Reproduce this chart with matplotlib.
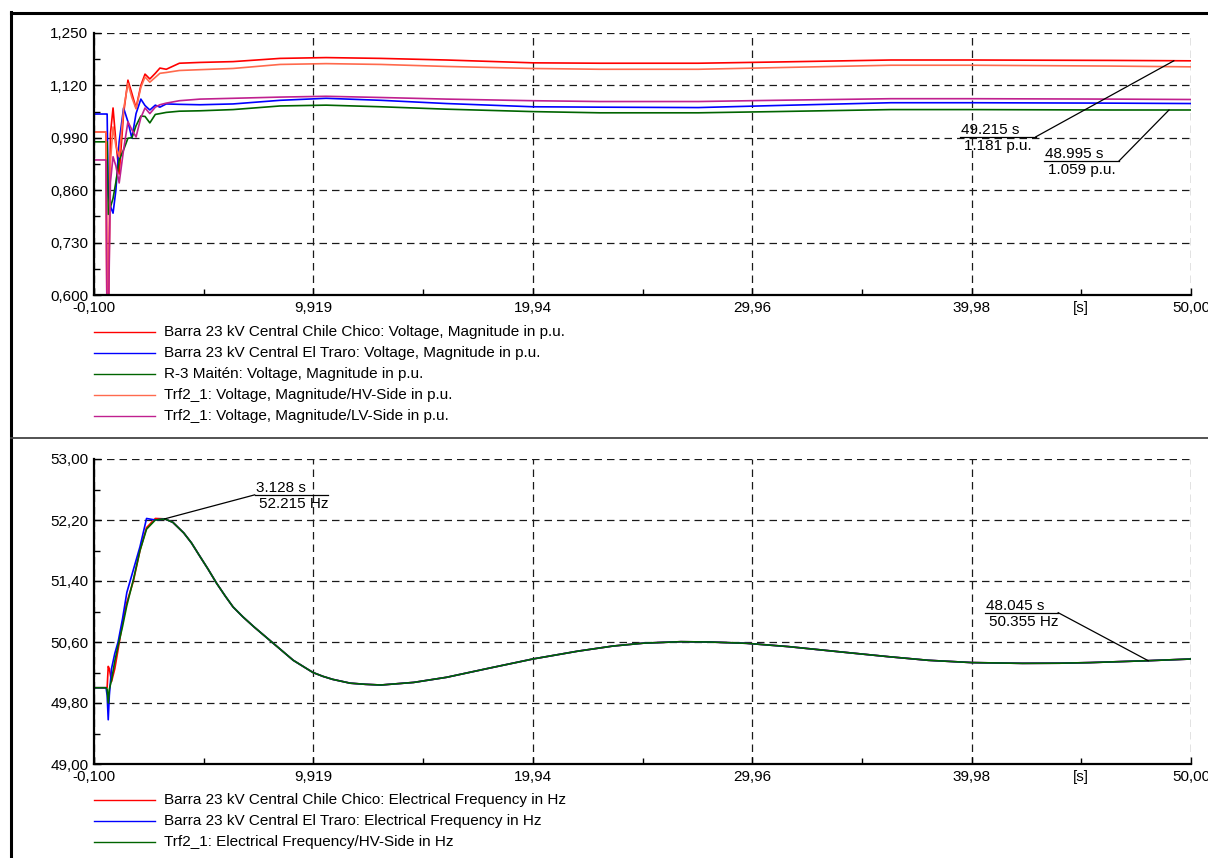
import matplotlib
matplotlib.use("Agg")
import matplotlib.pyplot as plt
from matplotlib.lines import Line2D
from matplotlib.ticker import FixedLocator, FuncFormatter

# time axis and tick labels (PowerFactory style, decimal comma)
x_ticks = [-0.1, 9.919, 19.94, 29.96, 39.98, 50.0]
x_labels = ["-0,100", "9,919", "19,94", "29,96", "39,98", "50,00"]
v_ticks = [0.600, 0.730, 0.860, 0.990, 1.120, 1.250]
v_labels = ["0,600", "0,730", "0,860", "0,990", "1,120", "1,250"]
f_ticks = [49.0, 49.8, 50.6, 51.4, 52.2, 53.0]
f_labels = ["49,00", "49,80", "50,60", "51,40", "52,20", "53,00"]

# voltage results
t_volt = [-0.1, 0.45, 0.5, 0.55, 0.65, 0.77, 0.9, 1.05, 1.25, 1.45, 1.63, 1.82,
          2.04, 2.23, 2.45, 2.7, 2.91, 3.2, 3.8, 4.74, 6.25, 8.4, 10.5, 13.0,
          16.0, 19.94, 23.0, 27.5, 31.0, 36.3, 40.0, 46.3, 50.0]
v_chile_chico = [1.004, 1.004, 0.45, 0.50, 1.00, 1.064, 0.98, 0.90, 1.05, 1.133, 1.10, 1.064,
                 1.12, 1.148, 1.136, 1.150, 1.163, 1.160, 1.175, 1.177, 1.179, 1.187, 1.189, 1.187,
                 1.183, 1.176, 1.175, 1.175, 1.178, 1.183, 1.183, 1.182, 1.181]
v_el_traro = [1.049, 1.049, 1.049, 0.85, 0.82, 0.803, 0.86, 0.98, 1.064, 1.03, 0.989, 1.05,
              1.086, 1.070, 1.059, 1.071, 1.066, 1.074, 1.073, 1.072, 1.074, 1.083, 1.088, 1.083,
              1.075, 1.067, 1.066, 1.065, 1.070, 1.077, 1.077, 1.076, 1.075]
v_maiten = [0.980, 0.980, 0.980, 0.80, 0.818, 0.84, 0.88, 0.935, 0.96, 0.989, 0.99, 1.02,
            1.044, 1.043, 1.027, 1.048, 1.050, 1.053, 1.056, 1.057, 1.060, 1.069, 1.071, 1.067,
            1.061, 1.055, 1.052, 1.052, 1.055, 1.060, 1.060, 1.059, 1.059]
v_trf_hv = [1.004, 1.004, 0.45, 0.50, 0.93, 1.017, 0.97, 0.943, 1.06, 1.125, 1.09, 1.062,
            1.115, 1.141, 1.128, 1.140, 1.150, 1.152, 1.157, 1.159, 1.162, 1.172, 1.174, 1.172,
            1.167, 1.162, 1.160, 1.160, 1.164, 1.170, 1.170, 1.168, 1.166]
v_trf_lv = [0.935, 0.935, 0.45, 0.50, 0.88, 0.943, 0.92, 0.878, 0.96, 1.03, 1.01, 0.992,
            1.04, 1.064, 1.05, 1.066, 1.072, 1.076, 1.082, 1.086, 1.088, 1.091, 1.093, 1.090,
            1.086, 1.082, 1.080, 1.080, 1.083, 1.087, 1.087, 1.086, 1.085]

# frequency results
t_freq = [-0.1, 0.45, 0.5, 0.55, 0.6, 0.7, 0.85, 1.0, 1.2, 1.4, 1.7, 2.0, 2.3, 2.7,
          3.128, 3.5, 4.0, 4.35, 4.7, 5.1, 5.5, 5.9, 6.25, 6.7, 7.2, 7.65, 8.1, 8.55,
          9.0, 9.45, 9.9, 10.35, 10.8, 11.6, 12.3, 13.0,
          14.5, 16.0, 18.0, 19.94, 22.0, 23.6, 25.0, 26.7, 28.0, 29.7, 31.6, 34.0,
          36.2, 38.0, 40.0, 42.3, 44.0, 45.4, 47.0, 48.045, 50.0]
f_tail = [52.215, 52.17, 52.03, 51.90, 51.74, 51.56, 51.37, 51.20, 51.06, 50.93,
          50.80, 50.69, 50.58, 50.47, 50.36, 50.28, 50.20, 50.15, 50.11, 50.06,
          50.045, 50.036, 50.07, 50.137, 50.26, 50.377, 50.48, 50.547, 50.585,
          50.604, 50.60, 50.583, 50.54, 50.47, 50.407, 50.36, 50.33, 50.32, 50.322,
          50.33, 50.345, 50.355, 50.377]
f_chile_chico = [50.0, 50.0, 50.0, 50.28, 50.25, 50.08, 50.25, 50.50, 50.85, 51.12,
                 51.40, 51.80, 52.10, 52.22] + f_tail
f_el_traro = [50.0, 50.0, 49.90, 49.58, 49.90, 50.25, 50.45, 50.60, 50.90, 51.25,
              51.55, 51.85, 52.22, 52.20] + f_tail
f_trf_hv = [50.0, 50.0, 49.98, 49.80, 49.98, 50.10, 50.35, 50.55, 50.80, 51.08,
            51.42, 51.80, 52.08, 52.20] + f_tail

volt_names = ["Barra 23 kV Central Chile Chico: Voltage, Magnitude in p.u.",
              "Barra 23 kV Central El Traro: Voltage, Magnitude in p.u.",
              "R-3 Maitén: Voltage, Magnitude in p.u.",
              "Trf2_1: Voltage, Magnitude/HV-Side in p.u.",
              "Trf2_1: Voltage, Magnitude/LV-Side in p.u."]
freq_names = ["Barra 23 kV Central Chile Chico: Electrical Frequency in Hz",
              "Barra 23 kV Central El Traro: Electrical Frequency in Hz",
              "Trf2_1: Electrical Frequency/HV-Side in Hz"]
volt_colors = ["#ff0000", "#0000ff", "#006400", "#ff6a4d", "#c0208f"]
freq_colors = ["#ff0000", "#0000ff", "#006400"]

# marked points (time, value)
volt_marks = [(49.215, 1.181), (48.995, 1.059)]
freq_marks = [(3.128, 52.215), (48.045, 50.355)]

W, H = 1208, 858
FS = 11
plt.rcParams["font.family"] = ["Liberation Sans", "DejaVu Sans"]
fig = plt.figure(figsize=(W / 100, H / 100), dpi=100)


def fx(px):
    return px / W


def fy(py):
    return 1 - py / H


ax_v = fig.add_axes([fx(94), fy(295), fx(1191) - fx(94), fy(33) - fy(295)])
ax_f = fig.add_axes([fx(94), fy(764), fx(1191) - fx(94), fy(459) - fy(764)])


def style(ax, yt, ylab):
    ax.set_xlim(x_ticks[0], x_ticks[-1])
    ax.set_ylim(yt[0], yt[-1])
    ax.set_xticks(x_ticks)
    ax.set_xticklabels(x_labels)
    ax.set_yticks(yt)
    ax.set_yticklabels(ylab)
    xm = [(a + b) / 2 for a, b in zip(x_ticks[:-1], x_ticks[1:])]
    ym = [(a + b) / 2 for a, b in zip(yt[:-1], yt[1:])]
    ax.xaxis.set_minor_locator(FixedLocator(xm))
    ax.yaxis.set_minor_locator(FixedLocator(ym))
    ax.xaxis.set_minor_formatter(FuncFormatter(lambda v, i: "[s]" if i == len(xm) - 1 else ""))
    ax.tick_params(which="both", direction="in", width=1, labelsize=FS, pad=4, colors="k")
    ax.tick_params(which="major", length=5)
    ax.tick_params(which="minor", length=4)
    for s in ["top", "right"]:
        ax.spines[s].set_visible(False)
    for s in ["left", "bottom"]:
        ax.spines[s].set_linewidth(1.6)
    ax.grid(True, which="major", color="#1a1a1a", ls=(0, (6, 4)), lw=0.9)


def callout(ax, t, v, dx, dy, w, top, bottom):
    # dx, dy, w in pixels: offset of the underline end and underline length
    pos = ax.get_position()
    x0, x1 = ax.get_xlim()
    y0, y1 = ax.get_ylim()
    sx = (x1 - x0) / (pos.width * W)
    sy = (y1 - y0) / (pos.height * H)
    ex, ey = t + dx * sx, v + dy * sy
    ax.plot([t, ex], [v, ey], color="k", lw=0.9, clip_on=False, zorder=6)
    ax.plot([ex, ex + w * sx], [ey, ey], color="k", lw=0.9, clip_on=False, zorder=6)
    left = min(ex, ex + w * sx)
    ax.text(left + 1 * sx, ey + 3 * sy, top, ha="left", va="baseline", fontsize=FS, zorder=7)
    ax.text(left + 4 * sx, ey - 2 * sy, bottom, ha="left", va="top", fontsize=FS, zorder=7)


style(ax_v, v_ticks, v_labels)
style(ax_f, f_ticks, f_labels)

volt_series = [v_chile_chico, v_el_traro, v_maiten, v_trf_hv, v_trf_lv]
for vals, c in zip(volt_series, volt_colors):
    ax_v.plot(t_volt, vals, color=c, lw=1.2)

freq_series = [f_chile_chico, f_el_traro, f_trf_hv]
for vals, c in zip(freq_series, freq_colors):
    ax_f.plot(t_freq, vals, color=c, lw=1.2)

# callouts
callout(ax_v, volt_marks[0][0], volt_marks[0][1], -138, -76, -76,
        f"{volt_marks[0][0]:.3f} s", f"{volt_marks[0][1]:.3f} p.u.")
callout(ax_v, volt_marks[1][0], volt_marks[1][1], -50, -51, -75,
        f"{volt_marks[1][0]:.3f} s", f"{volt_marks[1][1]:.3f} p.u.")
callout(ax_f, freq_marks[0][0], freq_marks[0][1], 90, 24, 73,
        f"{freq_marks[0][0]:.3f} s", f"{freq_marks[0][1]:.3f} Hz")
callout(ax_f, freq_marks[1][0], freq_marks[1][1], -90, 48, -73,
        f"{freq_marks[1][0]:.3f} s", f"{freq_marks[1][1]:.3f} Hz")


# legends below each plot
def legend_rows(names, colors, y_first):
    for i, (n, c) in enumerate(zip(names, colors)):
        y = y_first + 21 * i
        fig.add_artist(Line2D([fx(94), fx(155)], [fy(y), fy(y)], color=c, lw=1.0))
        fig.text(fx(164), fy(y), n, ha="left", va="center", fontsize=FS)


legend_rows(volt_names, volt_colors, 332)
legend_rows(freq_names, freq_colors, 800)

# page frame and panel separator
fig.add_artist(Line2D([fx(11), fx(11)], [fy(12), 0], color="k", lw=2.2))
fig.add_artist(Line2D([fx(11), 1], [fy(12.5), fy(12.5)], color="k", lw=2.2))
fig.add_artist(Line2D([fx(11), 1], [fy(437.5), fy(437.5)], color="#444444", lw=1.3))

fig.savefig("out.png", dpi=100)
